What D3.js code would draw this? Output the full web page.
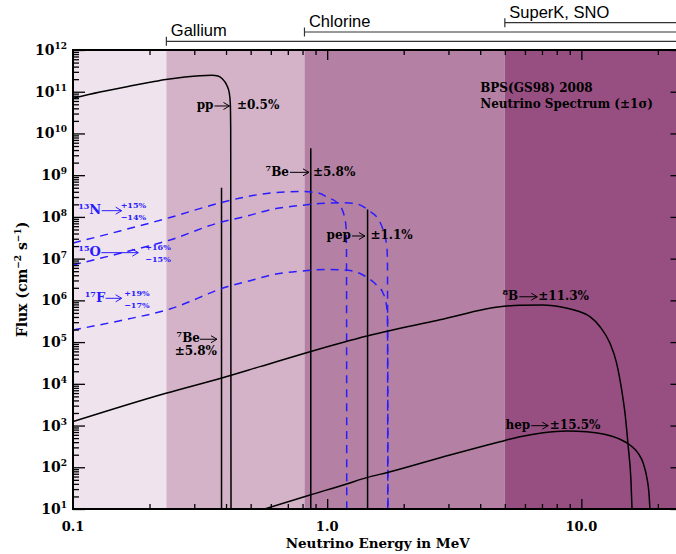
<!DOCTYPE html>
<html>
<head>
<meta charset="utf-8">
<title>Solar neutrino spectrum</title>
<script src="https://d3js.org/d3.v7.min.js"></script>
<style>
  body { margin: 0; background: #fff; }
  svg { display: block; }
  .lbl { font-family: "DejaVu Serif", serif; font-weight: bold; }
  .det { font-family: "Liberation Sans", Arial, sans-serif; font-size: 16.5px; }
</style>
</head>
<body>
<div id="chart"></div>
<script>
// energies in MeV, flux in cm^-2 s^-1 (MeV^-1 for the continuous spectra)
var ppEnergy = [0.100, 0.1277, 0.1676, 0.2009, 0.232, 0.2758, 0.316, 0.3523, 0.3719, 0.3857, 0.4024, 0.4121, 0.4158, 0.4173, 0.4185];
var ppFlux   = [6.96e10, 9.86e10, 1.37e11, 1.68e11, 1.96e11, 2.25e11, 2.42e11, 2.48e11, 2.38e11, 2.07e11, 1.45e11, 9.2e10, 5.3e10, 1.2e10, 8];

var b8Energy = [0.100, 0.232, 0.382, 0.544, 0.856, 1.434, 2.778, 4.961, 5.734, 7.083, 8.238, 9.583, 10.81, 11.84, 12.96, 13.77, 14.41, 14.85, 15.29, 15.67, 15.85];
var b8Flux   = [1.24e3, 5.93e3, 1.36e4, 2.58e4, 5.89e4, 1.40e5, 3.44e5, 7.21e5, 7.62e5, 7.74e5, 7.06e5, 5.66e5, 4.06e5, 2.34e5, 9.36e4, 3.10e4, 7.12e3, 1.97e3, 312, 49.6, 8];

var hepEnergy = [0.52, 0.856, 1.193, 1.430, 1.740, 3.042, 4.785, 5.734, 7.083, 8.753, 10.49, 12.20, 14.19, 15.53, 16.74, 17.52, 18.07, 18.45, 18.65];
var hepFlux   = [8.5, 21.7, 39.8, 56.4, 75.9, 197, 410, 541, 675, 741, 713, 628, 469, 342, 216, 125, 59.6, 23.8, 8];

var n13Energy = [0.100, 0.1531, 0.2408, 0.3719, 0.4749, 0.6288, 0.7816, 0.9201, 1.007, 1.103, 1.165, 1.186, 1.191, 1.194];
var n13Flux   = [2.37e7, 4.60e7, 9.68e7, 2.10e8, 3.00e8, 3.85e8, 4.07e8, 3.74e8, 2.92e8, 2.10e8, 1.11e8, 5.73e7, 2.12e7, 8];

var o15Energy = [0.100, 0.1531, 0.2408, 0.3719, 0.4749, 0.6288, 0.7816, 0.9369, 1.123, 1.286, 1.447, 1.613, 1.688, 1.719, 1.727, 1.731];
var o15Flux   = [7.05e6, 1.34e7, 2.80e7, 7.15e7, 1.02e8, 1.59e8, 1.88e8, 2.10e8, 2.19e8, 2.10e8, 1.47e8, 7.55e7, 3.30e7, 1.80e7, 7.05e6, 8];

var f17Energy = [0.100, 0.1531, 0.2408, 0.4072, 0.4970, 0.6288, 0.8033, 0.9892, 1.175, 1.383, 1.556, 1.658, 1.703, 1.727, 1.735];
var f17Flux   = [1.95e5, 3.26e5, 6.21e5, 2.15e6, 2.96e6, 4.29e6, 5.06e6, 5.50e6, 5.35e6, 4.06e6, 2.40e6, 1.50e6, 9.15e5, 3.78e5, 8];

// line sources (cm^-2 s^-1)
var lineEnergy = [0.384, 0.862, 1.442];
var lineFlux   = [5.0e8, 4.4e9, 1.5e8];

// detector thresholds and shaded bands
var detNames      = ["Gallium", "Chlorine", "SuperK, SNO"];
var detThresholds = [0.233, 0.814, 5.0];
var bandEdges  = [0.1, 0.233, 0.814, 5.0, 25];
var bandColors = ["#efe4ed", "#d4b2c8", "#b480a3", "#974f81"];

var xTickValues = [0.1, 1, 10];
var xTickLabels = ["0.1", "1.0", "10.0"];

var margin = {top: 50, left: 73};
var width = 609.5;
var height = 459;
var blue = "#2b1cff";

var svg = d3.select("#chart")
    .append("svg")
    .attr("width", 676)
    .attr("height", 554);

var g = svg.append("g")
    .attr("transform", "translate(" + margin.left + "," + margin.top + ")");

var x = d3.scaleLog().domain([0.1, 25]).range([0, width]);
var y = d3.scaleLog().domain([10, 1e12]).range([height, 0]);

g.append("clipPath").attr("id", "clip")
  .append("rect").attr("width", width).attr("height", height);

// bands
g.selectAll(".band")
  .data(d3.range(bandColors.length))
  .enter()
  .append("rect")
  .attr("x", function(i) { return x(bandEdges[i]); })
  .attr("width", function(i) { return x(bandEdges[i + 1]) - x(bandEdges[i]); })
  .attr("y", 0)
  .attr("height", height)
  .attr("fill", function(i) { return bandColors[i]; });

var plot = g.append("g").attr("clip-path", "url(#clip)");

var line = d3.line()
  .x(function(d) { return x(d[0]); })
  .y(function(d) { return y(d[1]); })
  .curve(d3.curveMonotoneX);

function pairs(es, fs) { return es.map(function(e, i) { return [e, fs[i]]; }); }

// line sources
plot.selectAll(".src")
  .data(lineEnergy)
  .enter()
  .append("line")
  .attr("x1", function(d) { return x(d); })
  .attr("x2", function(d) { return x(d); })
  .attr("y1", y(10))
  .attr("y2", function(d, i) { return y(lineFlux[i]); })
  .attr("stroke", "#000")
  .attr("stroke-width", 1.5);

// CNO (dashed)
[[n13Energy, n13Flux], [o15Energy, o15Flux], [f17Energy, f17Flux]].forEach(function(s) {
  plot.append("path")
    .datum(pairs(s[0], s[1]))
    .attr("d", line)
    .attr("fill", "none")
    .attr("stroke", blue)
    .attr("stroke-width", 1.5)
    .attr("stroke-dasharray", "8,6");
});

// pp, 8B, hep
[[ppEnergy, ppFlux], [b8Energy, b8Flux], [hepEnergy, hepFlux]].forEach(function(s) {
  plot.append("path")
    .datum(pairs(s[0], s[1]))
    .attr("d", line)
    .attr("fill", "none")
    .attr("stroke", "#000")
    .attr("stroke-width", 1.5);
});

// axes: ticks only, pointing inward
var decades = d3.range(1, 13).map(function(p) { return Math.pow(10, p); });
var minorY = [];
d3.range(1, 12).forEach(function(p) {
  d3.range(2, 10).forEach(function(k) { minorY.push(k * Math.pow(10, p)); });
});
var minorX = [0.2, 0.3, 0.4, 0.5, 0.6, 0.7, 0.8, 0.9, 2, 3, 4, 5, 6, 7, 8, 9, 20];

function ticks(axis, tx, ty) {
  var a = g.append("g")
    .attr("transform", "translate(" + tx + "," + ty + ")")
    .call(axis.tickFormat(""));
  a.select(".domain").remove();
  a.selectAll("line").attr("stroke", "#000").attr("stroke-width", 1.3);
}
ticks(d3.axisLeft(y).tickValues(decades).tickSize(-12), 0, 0);
ticks(d3.axisLeft(y).tickValues(minorY).tickSize(-6), 0, 0);
ticks(d3.axisRight(y).tickValues(decades).tickSize(-12), width, 0);
ticks(d3.axisRight(y).tickValues(minorY).tickSize(-6), width, 0);
ticks(d3.axisBottom(x).tickValues([1, 10]).tickSize(-10), 0, height);
ticks(d3.axisBottom(x).tickValues(minorX).tickSize(-5), 0, height);
ticks(d3.axisTop(x).tickValues([1, 10]).tickSize(-10), 0, 0);
ticks(d3.axisTop(x).tickValues(minorX).tickSize(-5), 0, 0);

g.append("rect")
  .attr("width", width).attr("height", height)
  .attr("fill", "none").attr("stroke", "#000").attr("stroke-width", 2);

// tick labels
g.selectAll(".xl")
  .data(xTickValues)
  .enter()
  .append("text")
  .attr("class", "lbl")
  .attr("x", function(d) { return x(d); })
  .attr("y", height + 21.5)
  .attr("text-anchor", "middle")
  .attr("font-size", 13)
  .text(function(d, i) { return xTickLabels[i]; });

var yl = g.selectAll(".yl")
  .data(decades)
  .enter()
  .append("text")
  .attr("class", "lbl")
  .attr("x", -6)
  .attr("y", function(d) { return y(d) + 5; })
  .attr("text-anchor", "end")
  .attr("font-size", 14);
yl.append("tspan").text("10");
yl.append("tspan").attr("dy", -6).attr("font-size", 9)
  .text(function(d) { return Math.round(Math.log10(d)); });

// axis titles
g.append("text")
  .attr("class", "lbl")
  .attr("x", width / 2)
  .attr("y", height + 38.5)
  .attr("text-anchor", "middle")
  .attr("font-size", 13.5)
  .text("Neutrino Energy in MeV");

var yt = g.append("text")
  .attr("class", "lbl")
  .attr("transform", "translate(" + (-46) + "," + (height / 2) + ") rotate(-90)")
  .attr("text-anchor", "middle")
  .attr("font-size", 14);
yt.append("tspan").text("Flux (cm");
yt.append("tspan").attr("dy", -6).attr("font-size", 9).text("−2");
yt.append("tspan").attr("dy", 6).text(" s");
yt.append("tspan").attr("dy", -6).attr("font-size", 9).text("−1");
yt.append("tspan").attr("dy", 6).text(")");

// detector brackets above the plot
detNames.forEach(function(name, i) {
  var x0 = x(detThresholds[i]);
  var ly = -8.7 - 9.3 * i;
  g.append("line")
    .attr("x1", x0).attr("x2", 700).attr("y1", ly).attr("y2", ly)
    .attr("stroke", "#333").attr("stroke-width", 1.2);
  g.append("line")
    .attr("x1", x0).attr("x2", x0).attr("y1", ly - 4.5).attr("y2", ly + 4.5)
    .attr("stroke", "#333").attr("stroke-width", 1.2);
  g.append("text")
    .attr("class", "det")
    .attr("x", x0 + 4.5)
    .attr("y", ly - 5)
    .text(name);
});

// title
g.append("text").attr("class", "lbl").attr("font-size", 12)
  .attr("x", x(4.0)).attr("y", y(1.0e11)).text("BPS(GS98) 2008");
g.append("text").attr("class", "lbl").attr("font-size", 12)
  .attr("x", x(4.0)).attr("y", y(4.0e10)).text("Neutrino Spectrum (±1σ)");

// arrows
function arrow(x1, x2, yy, color) {
  g.append("line")
    .attr("x1", x1).attr("x2", x2).attr("y1", yy).attr("y2", yy)
    .attr("stroke", color).attr("stroke-width", 1);
  g.append("path")
    .attr("d", "M" + (x2 - 6) + "," + (yy - 3.5) + "L" + x2 + "," + yy + "L" + (x2 - 6) + "," + (yy + 3.5))
    .attr("fill", "none").attr("stroke", color).attr("stroke-width", 1);
}

function isoLabel(xx, yy, iso, name, size, supSize, color, anchor) {
  var t = g.append("text")
    .attr("class", "lbl")
    .attr("x", xx).attr("y", yy)
    .attr("font-size", size)
    .attr("fill", color)
    .attr("text-anchor", anchor);
  if (iso) {
    t.append("tspan").attr("font-size", supSize).attr("dy", -5).text(iso);
    t.append("tspan").attr("dy", 5).text(name);
  } else {
    t.text(name);
  }
}

// black annotations: arrow tip in data coordinates
var blackAnn = [
  {iso: "", name: "pp", err: "±0.5%", E: 0.4127, F: 4.55e10, len: 15, gap: 7.5},
  {iso: "7", name: "Be", err: "±5.8%", E: 0.848, F: 1.17e9, len: 19, gap: 4},
  {iso: "", name: "pep", err: "±1.1%", E: 1.408, F: 3.49e7, len: 13, gap: 5.5},
  {iso: "8", name: "B", err: "±11.3%", E: 6.706, F: 1.22e6, len: 18, gap: 1},
  {iso: "", name: "hep", err: "±15.5%", E: 7.41, F: 993, len: 17, gap: 1.5}
];
blackAnn.forEach(function(a) {
  var tx = x(a.E), ty = y(a.F);
  arrow(tx - a.len, tx, ty, "#000");
  isoLabel(tx - a.len - 1, ty + 3.5, a.iso, a.name, 12, 8, "#000", "end");
  g.append("text").attr("class", "lbl").attr("font-size", 12)
    .attr("x", tx + a.gap).attr("y", ty + 3.5).text(a.err);
});

// 7Be 0.384 label, error below
(function() {
  var tx = x(0.3685), ty = y(1.17e5);
  arrow(tx - 17, tx, ty, "#000");
  isoLabel(tx - 17, ty + 3, "7", "Be", 12, 8, "#000", "end");
  g.append("text").attr("class", "lbl").attr("font-size", 12)
    .attr("x", tx).attr("y", ty + 16).attr("text-anchor", "end").text("±5.8%");
})();

// CNO labels
var blueAnn = [
  {iso: "13", name: "N", up: "+15%", down: "−14%", E: 0.1554, F: 1.41e8, len: 20, gap: -1},
  {iso: "15", name: "O", up: "+16%", down: "−15%", E: 0.1807, F: 1.39e7, len: 37, gap: 7},
  {iso: "17", name: "F", up: "+19%", down: "−17%", E: 0.1554, F: 1.12e6, len: 16, gap: 2.5}
];
blueAnn.forEach(function(a) {
  var tx = x(a.E), ty = y(a.F);
  arrow(tx - a.len, tx, ty, blue);
  isoLabel(tx - a.len - 0.5, ty + 3.5, a.iso, a.name, 13, 8, blue, "end");
  g.append("text").attr("class", "lbl").attr("font-size", 8).attr("fill", blue)
    .attr("x", tx + a.gap).attr("y", ty - 2.5).text(a.up);
  g.append("text").attr("class", "lbl").attr("font-size", 8).attr("fill", blue)
    .attr("x", tx + a.gap).attr("y", ty + 9.5).text(a.down);
});
</script>
</body>
</html>
